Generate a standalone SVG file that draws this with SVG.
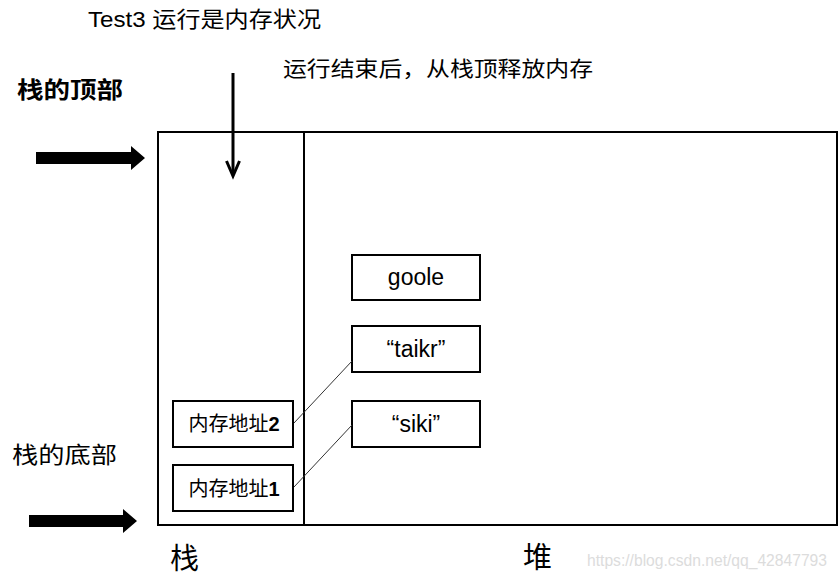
<svg xmlns="http://www.w3.org/2000/svg" width="840" height="582" viewBox="0 0 840 582">
<style>
.box{fill:#fff;stroke:#000;stroke-width:2}
.lat{font-family:"Liberation Sans",Arial,sans-serif;fill:#000}
.cjk{font-family:"Noto Sans CJK SC",sans-serif;fill:#000}
.conn{stroke:#333;stroke-width:1;fill:none}
.big{fill:#000}
</style>
<rect width="840" height="582" fill="#fff"/>
<g id="title">
<text x="88" y="27" font-size="22" textLength="233" lengthAdjust="spacingAndGlyphs"><tspan class="lat">Test3 </tspan><tspan class="cjk">运行是内存状况</tspan></text>
</g>
<g id="release-note">
<text class="cjk" x="283" y="76" font-size="21" textLength="310" lengthAdjust="spacingAndGlyphs">运行结束后，从栈顶释放内存</text>
</g>
<g id="stack-top-label">
<text class="cjk" x="17" y="98" font-size="23" font-weight="bold" textLength="106" lengthAdjust="spacingAndGlyphs">栈的顶部</text>
</g>
<g id="stack-bottom-label">
<text class="cjk" x="12" y="463" font-size="23" textLength="105" lengthAdjust="spacingAndGlyphs">栈的底部</text>
</g>
<g id="frame">
<rect x="158" y="132" width="679" height="393" fill="none" stroke="#000" stroke-width="2"/>
<line x1="304" y1="132" x2="304" y2="525" stroke="#000" stroke-width="2"/>
</g>
<g id="top-arrow">
<polygon class="big" points="36,152 131,152 131,146 145,158 131,170 131,164 36,164"/>
</g>
<g id="bottom-arrow">
<polygon class="big" points="29,515 123,515 123,509 137,521 123,533 123,527 29,527"/>
</g>
<g id="release-arrow">
<line x1="233" y1="73" x2="233" y2="175" stroke="#000" stroke-width="3"/>
<polyline points="226.5,161 233,176 239.5,161" stroke="#000" stroke-width="3" fill="none"/>
</g>
<g id="addr2">
<rect class="box" x="173" y="401" width="120" height="46"/>
<text x="234" y="431" font-size="20" text-anchor="middle"><tspan class="cjk">内存地址</tspan><tspan class="lat" font-weight="bold">2</tspan></text>
</g>
<g id="addr1">
<rect class="box" x="173" y="465" width="120" height="46"/>
<text x="234" y="496" font-size="20" text-anchor="middle"><tspan class="cjk">内存地址</tspan><tspan class="lat" font-weight="bold">1</tspan></text>
</g>
<g id="goole">
<rect class="box" x="352" y="255" width="128" height="45"/>
<text class="lat" x="416" y="285" font-size="23" text-anchor="middle">goole</text>
</g>
<g id="taikr">
<rect class="box" x="352" y="326" width="128" height="46"/>
<text class="lat" x="416" y="357" font-size="23" text-anchor="middle">“taikr”</text>
</g>
<g id="siki">
<rect class="box" x="352" y="401" width="128" height="46"/>
<text class="lat" x="416" y="432" font-size="23" text-anchor="middle">“siki”</text>
</g>
<g id="connectors">
<line class="conn" x1="294" y1="423" x2="352" y2="361"/>
<line class="conn" x1="294" y1="487" x2="352" y2="425"/>
</g>
<g id="stack-label">
<text class="cjk" x="170" y="569" font-size="29">栈</text>
</g>
<g id="heap-label">
<text class="cjk" x="523" y="568" font-size="29">堆</text>
</g>
<g id="watermark">
<text class="lat" x="587" y="566" font-size="16" style="fill:#dcdcdc" textLength="240" lengthAdjust="spacingAndGlyphs">https://blog.csdn.net/qq_42847793</text>
</g>
</svg>
